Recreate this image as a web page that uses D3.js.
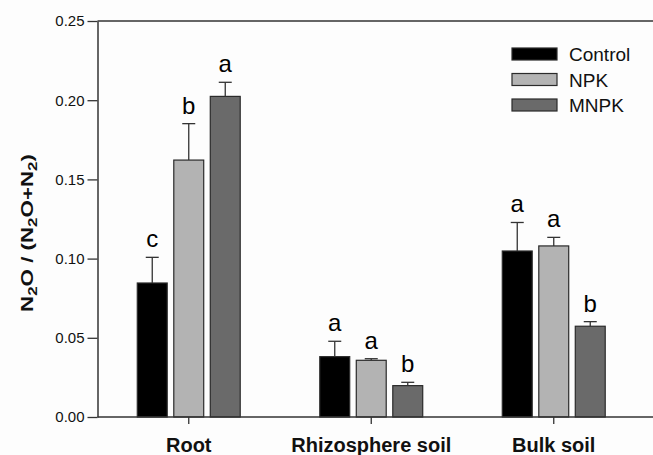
<html>
<head>
<meta charset="utf-8">
<script src="https://d3js.org/d3.v7.min.js"></script>
<style>
  body { margin: 0; background: #fdfdfd; }
  text { font-family: Arial, "Liberation Sans", sans-serif; }
</style>
</head>
<body>
<div id="chart"></div>
<script>
// data
const categories = ["Root", "Rhizosphere soil", "Bulk soil"];
const series = ["Control", "NPK", "MNPK"];
const controlVals = [0.0846, 0.0381, 0.1048];
const controlErr = [0.0162, 0.0097, 0.0180];
const npkVals = [0.1622, 0.0358, 0.1080];
const npkErr = [0.0230, 0.0010, 0.0054];
const mnpkVals = [0.2024, 0.0198, 0.0573];
const mnpkErr = [0.0089, 0.0021, 0.0029];
const controlLetters = ["c", "a", "a"];
const npkLetters = ["b", "a", "a"];
const mnpkLetters = ["a", "b", "b"];
const yTicks = [0, 0.05, 0.10, 0.15, 0.20, 0.25];
const colors = ["#000000", "#b3b3b3", "#6a6a6a"];

const W = 653, H = 455;
const mLeft = 97.5, mTop = 21, mBottom = 417, rightEdge = 653;

const vals = [controlVals, npkVals, mnpkVals];
const errs = [controlErr, npkErr, mnpkErr];
const lets = [controlLetters, npkLetters, mnpkLetters];

const rows = [];
series.forEach((s, si) => {
    categories.forEach((c, ci) => {
        rows.push({ cat: c, ser: s, si: si, v: vals[si][ci], e: errs[si][ci], l: lets[si][ci] });
    });
});

const svg = d3.select("#chart").append("svg")
    .attr("width", W).attr("height", H);

const x = d3.scaleBand().domain(categories).range([mLeft, 645]);
const xs = d3.scaleBand().domain(series)
    .range([-54.75, 54.75]).paddingInner(0.18).paddingOuter(0.09);
const y = d3.scaleLinear().domain([0, 0.25]).range([mBottom, mTop]);

const axisColor = "#333";

// top frame line (runs off the right edge)
svg.append("line").attr("x1", mLeft).attr("x2", rightEdge)
    .attr("y1", y(0.25)).attr("y2", y(0.25))
    .attr("stroke", axisColor).attr("stroke-width", 1.5);

// bars
svg.selectAll("rect.bar").data(rows).enter().append("rect")
    .attr("class", "bar")
    .attr("x", d => x(d.cat) + x.bandwidth() / 2 + xs(d.ser))
    .attr("y", d => y(d.v))
    .attr("width", xs.bandwidth())
    .attr("height", d => y(0) - y(d.v))
    .attr("fill", d => colors[d.si])
    .attr("stroke", "#2a2a2a")
    .attr("stroke-width", 1.2);

// error bars (upper only)
const cx = d => x(d.cat) + x.bandwidth() / 2 + xs(d.ser) + xs.bandwidth() / 2;
svg.selectAll("line.err").data(rows).enter().append("line")
    .attr("x1", cx).attr("x2", cx)
    .attr("y1", d => y(d.v)).attr("y2", d => y(d.v + d.e))
    .attr("stroke", axisColor).attr("stroke-width", 1.3);
svg.selectAll("line.cap").data(rows).enter().append("line")
    .attr("x1", d => cx(d) - 6.5).attr("x2", d => cx(d) + 6.5)
    .attr("y1", d => y(d.v + d.e)).attr("y2", d => y(d.v + d.e))
    .attr("stroke", axisColor).attr("stroke-width", 1.3);

// significance letters
svg.selectAll("text.sig").data(rows).enter().append("text")
    .attr("x", cx)
    .attr("y", d => y(d.v + d.e) - 10)
    .attr("text-anchor", "middle")
    .style("font-size", "24px")
    .text(d => d.l);

// y axis
const yAxis = svg.append("g")
    .attr("transform", `translate(${mLeft},0)`)
    .call(d3.axisLeft(y).tickValues(yTicks).tickFormat(d3.format(".2f"))
        .tickSize(10).tickPadding(3).tickSizeOuter(0));
yAxis.select(".domain").attr("stroke", axisColor).attr("stroke-width", 1.5);
yAxis.selectAll(".tick line").attr("stroke", axisColor).attr("stroke-width", 1.3);
yAxis.selectAll(".tick text").style("font-size", "15px").attr("fill", "#111")
    .style("font-family", "Arial, 'Liberation Sans', sans-serif");

// x axis
const xAxis = svg.append("g")
    .attr("transform", `translate(0,${mBottom})`)
    .call(d3.axisBottom(x).tickSize(7).tickPadding(14).tickSizeOuter(0));
xAxis.select(".domain").remove();
xAxis.selectAll(".tick line").attr("stroke", axisColor).attr("stroke-width", 1.3);
xAxis.selectAll(".tick text").style("font-size", "20px").style("font-weight", "bold")
    .attr("fill", "#111")
    .style("font-family", "Arial, 'Liberation Sans', sans-serif");
svg.append("line").attr("x1", mLeft).attr("x2", rightEdge)
    .attr("y1", mBottom).attr("y2", mBottom)
    .attr("stroke", axisColor).attr("stroke-width", 1.5);

// y title with subscripts, stretched along its length like the original
const yt = svg.append("text")
    .attr("transform", `translate(33,233) rotate(-90)`)
    .attr("text-anchor", "middle")
    .attr("textLength", 158).attr("lengthAdjust", "spacingAndGlyphs")
    .style("font-size", "17px").style("font-weight", "bold").attr("fill", "#111");
const parts = [["N", 0], ["2", 1], ["O / (N", 0], ["2", 1], ["O+N", 0], ["2", 1], [")", 0]];
parts.forEach(p => {
    const t = yt.append("tspan").text(p[0]);
    if (p[1]) t.attr("baseline-shift", "-30%").style("font-size", "13px");
});

// legend
const legend = svg.append("g").attr("transform", "translate(512,48)");
series.forEach((s, i) => {
    const g = legend.append("g").attr("transform", `translate(0,${i * 25.5})`);
    g.append("rect").attr("width", 45).attr("height", 12)
        .attr("fill", colors[i]).attr("stroke", "#2a2a2a").attr("stroke-width", 1.2);
    g.append("text").attr("x", 57).attr("y", 13)
        .style("font-size", "19px").attr("fill", "#111").text(s);
});
</script>
</body>
</html>
